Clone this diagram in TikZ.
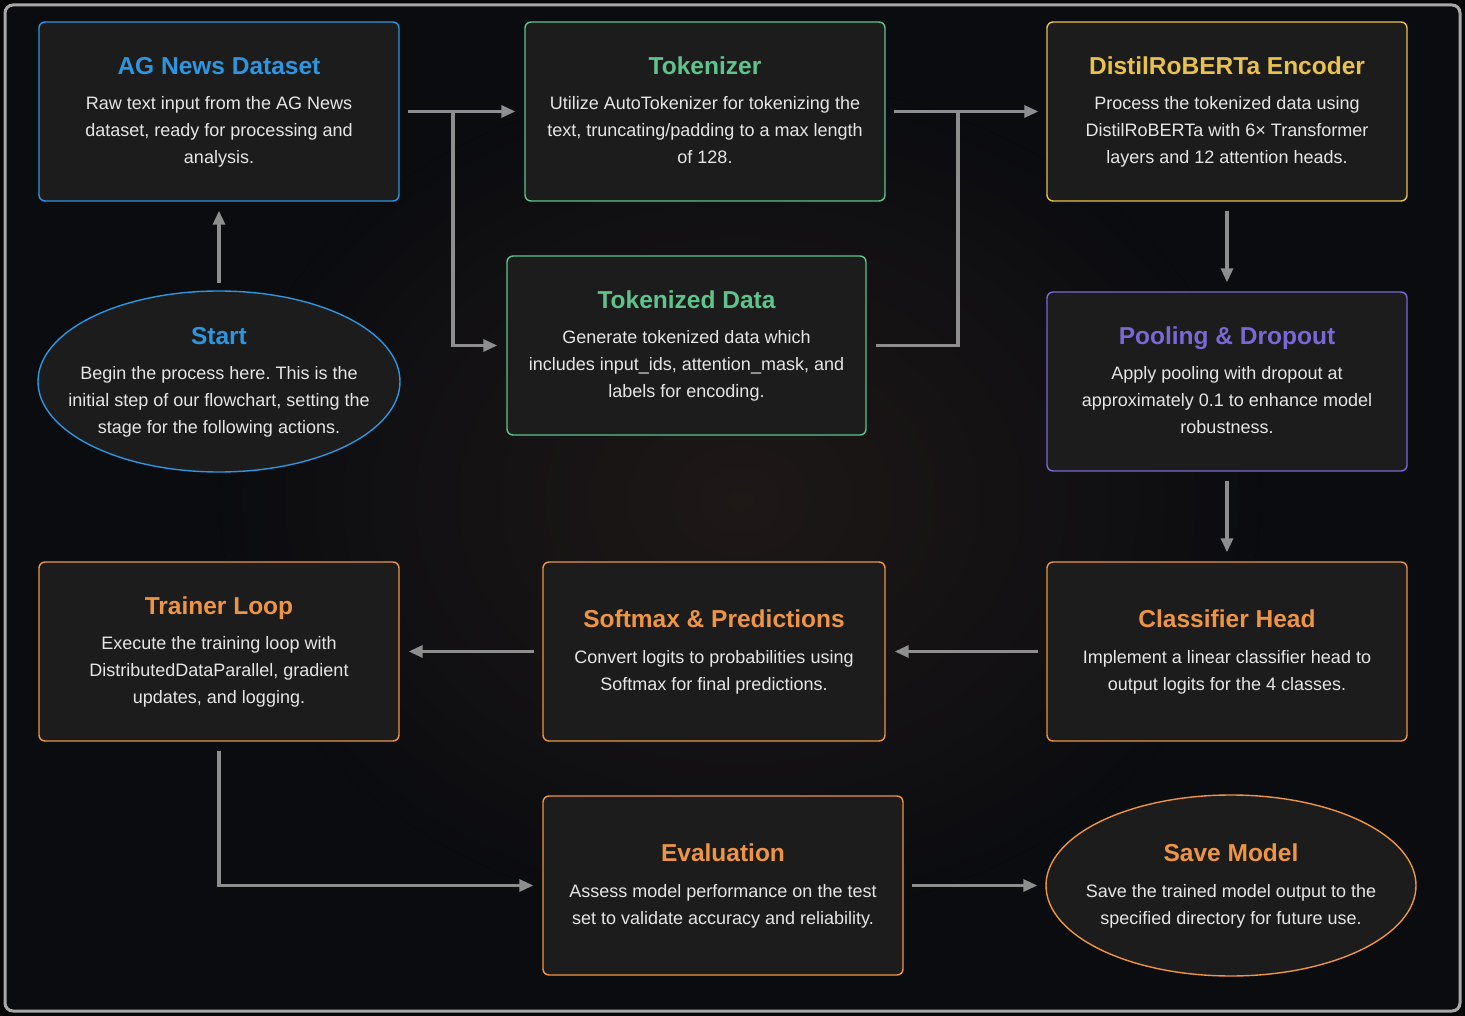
\documentclass[tikz,border=0pt]{standalone}
\usepackage{fontspec}
\setmainfont{Liberation Sans}
\usetikzlibrary{arrows.meta,shapes.geometric,calc}

\definecolor{pagebg}{HTML}{060607}
\definecolor{spacebg}{HTML}{0B0C10}
\definecolor{glow}{HTML}{1E1817}
\definecolor{framegray}{HTML}{A8A8A8}
\definecolor{cardbg}{HTML}{1C1C1C}
\definecolor{bodytext}{HTML}{E6E6E6}
\definecolor{arrowgray}{HTML}{8E8E8E}
\definecolor{cblue}{HTML}{2E95DE}
\definecolor{cgreen}{HTML}{5EC48C}
\definecolor{cyellow}{HTML}{E8C24A}
\definecolor{cpurple}{HTML}{7A68D4}
\definecolor{corange}{HTML}{EE9544}

% title + body text of a step; the rules fix the height of the block
\newcommand\stepcontent[3]{%
  \frenchspacing
  {\color{#1}\fontsize{24.5}{28}\selectfont\bfseries\rule{0pt}{20pt}#2\par}%
  \vspace{8.5pt}%
  {\fontsize{18}{27}\selectfont #3\rule[-5pt]{0pt}{5pt}\par}}

\tikzset{
  card/.style={draw=#1, rounded corners=6pt, line width=1.4pt, fill=cardbg,
    minimum width=360pt, minimum height=179pt, inner sep=0pt,
    text width=330pt, align=flush center, text=bodytext},
  oval/.style={ellipse, draw=#1, line width=1.4pt, fill=cardbg,
    minimum width=362pt, minimum height=181pt, inner sep=0pt},
  ovaltext/.style={text width=330pt, align=flush center, text=bodytext, inner sep=0pt},
  arr/.style={draw=arrowgray, line width=3.2pt, -{Triangle[length=14pt,width=12pt]}},
  link/.style={draw=arrowgray, line width=3.2pt},
}

\begin{document}
\begin{tikzpicture}[x=1pt,y=-1pt]
  % canvas and frame
  \fill[pagebg] (0,0) rectangle (1465,1016);
  \useasboundingbox (0,0) rectangle (1465,1016);
  \fill[spacebg, rounded corners=8pt] (5,5) rectangle (1460,1011);
  \begin{scope}
    \clip[rounded corners=8pt] (5,5) rectangle (1460,1011);
    \fill[inner color=glow, outer color=spacebg] (740,500) ellipse (520pt and 420pt);
  \end{scope}
  \draw[framegray, line width=3pt, rounded corners=8pt] (5,5) rectangle (1460,1011);

  % steps
  \node[card=cblue] (ag) at (219,111.5)
    {\stepcontent{cblue}{AG News Dataset}{Raw text input from the AG News\\dataset, ready for processing and\\analysis.}};
  \node[card=cgreen] (tok) at (705,111.5)
    {\stepcontent{cgreen}{Tokenizer}{Utilize AutoTokenizer for tokenizing the\\text, truncating/padding to a max length\\of 128.}};
  \node[card=cyellow] (enc) at (1227,111.5)
    {\stepcontent{cyellow}{DistilRoBERTa Encoder}{Process the tokenized data using\\DistilRoBERTa with 6× Transformer\\layers and 12 attention heads.}};
  \node[card=cgreen, minimum width=359pt] (tokd) at (686.5,345.5)
    {\stepcontent{cgreen}{Tokenized Data}{Generate tokenized data which\\includes input\_ids, attention\_mask, and\\labels for encoding.}};
  \node[card=cpurple] (pool) at (1227,381.5)
    {\stepcontent{cpurple}{Pooling \& Dropout}{Apply pooling with dropout at\\approximately 0.1 to enhance model\\robustness.}};
  \node[card=corange] (train) at (219,651.5)
    {\stepcontent{corange}{Trainer Loop}{Execute the training loop with\\DistributedDataParallel, gradient\\updates, and logging.}};
  \node[card=corange, minimum width=342pt] (soft) at (714,651.5)
    {\stepcontent{corange}{Softmax \& Predictions}{Convert logits to probabilities using\\Softmax for final predictions.}};
  \node[card=corange] (cls) at (1227,651.5)
    {\stepcontent{corange}{Classifier Head}{Implement a linear classifier head to\\output logits for the 4 classes.}};
  \node[card=corange] (eval) at (723,885.5)
    {\stepcontent{corange}{Evaluation}{Assess model performance on the test\\set to validate accuracy and reliability.}};

  % start and end ovals
  \node[oval=cblue] (start) at (219,381.5) {};
  \node[ovaltext] (starttext) at (start.center)
    {\stepcontent{cblue}{Start}{Begin the process here. This is the\\initial step of our flowchart, setting the\\stage for the following actions.}};
  \node[oval=corange, minimum width=370pt] (save) at (1231,885.5) {};
  \node[ovaltext] (savetext) at (save.center)
    {\stepcontent{corange}{Save Model}{Save the trained model output to the\\specified directory for future use.}};

  % junction points
  \coordinate (j1) at (453,111);
  \coordinate (j2) at (958,111);

  % connectors
  \draw[arr, shorten <=7pt, shorten >=9pt] (start.north) -- (ag.south);
  \draw[arr, shorten <=8pt, shorten >=9pt] (ag.east) -- (tok.west);
  \draw[arr, shorten >=9pt] (j1) |- (tokd.west);
  \draw[arr, shorten <=8pt, shorten >=8pt] (tok.east) -- (enc.west);
  \draw[link, shorten <=9pt] (tokd.east) -| (j2);
  \draw[arr, shorten <=9pt, shorten >=9pt] (enc.south) -- (pool.north);
  \draw[arr, shorten <=9pt, shorten >=9pt] (pool.south) -- (cls.north);
  \draw[arr, shorten <=8pt, shorten >=9pt] (cls.west) -- (soft.east);
  \draw[arr, shorten <=8pt, shorten >=9pt] (soft.west) -- (train.east);
  \draw[arr, shorten <=9pt, shorten >=9pt] (train.south) |- (eval.west);
  \draw[arr, shorten <=8pt, shorten >=8pt] (eval.east) -- (save.west);
\end{tikzpicture}
\end{document}
